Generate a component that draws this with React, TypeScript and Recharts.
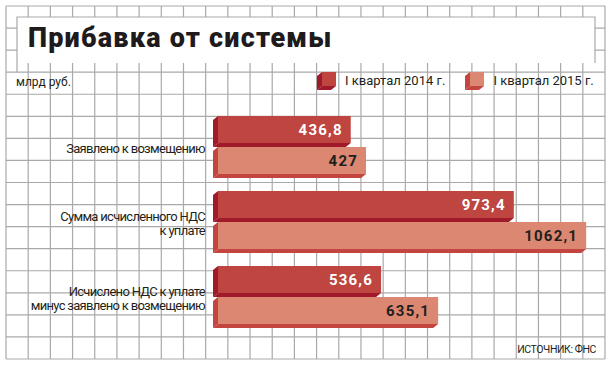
import { Bar, BarChart, LabelList, Legend, XAxis, YAxis } from "recharts";

const categories = [
  "Заявлено к возмещению",
  "Сумма исчисленного НДС\nк уплате",
  "Исчислено НДС к уплате\nминус заявлено к возмещению",
];
const quarter2014 = [436.8, 973.4, 536.6];
const quarter2015 = [427, 1062.1, 635.1];
const seriesNames = ["I квартал 2014 г.", "I квартал 2015 г."];

const title = "Прибавка от системы";
const unit = "млрд руб.";
const source = "ИСТОЧНИК: ФНС";

const data = categories.map((name, i) => ({
  name,
  q2014: quarter2014[i],
  q2015: quarter2015[i],
}));

const W = 613;
const H = 369;
const FONT = "Roboto, 'Noto Sans', sans-serif";
const GRID = "#a9a9a9";
const DX = 5;
const DY = 4;

const series = [
  { key: "q2014", name: seriesNames[0], front: "#be4540", side: "#a01a2c", text: "#ffffff", axis: "a" },
  { key: "q2015", name: seriesNames[1], front: "#db8771", side: "#c4453f", text: "#231f20", axis: "b" },
];

const fmt = (v: number) => String(v).replace(".", ",");

// front face at (x, y, w, h), depth drawn to the lower left
function Box3D({ x, y, w, h, front, side }: any) {
  return (
    <g>
      <polygon points={`${x},${y} ${x - DX},${y + DY} ${x - DX},${y + h + DY} ${x},${y + h}`} fill={side} />
      <polygon points={`${x},${y + h} ${x + w},${y + h} ${x + w - DX},${y + h + DY} ${x - DX},${y + h + DY}`} fill={side} />
      <rect x={x} y={y} width={w} height={h} fill={front} />
    </g>
  );
}

const barShape = (s: any) => (props: any) => {
  const { x, y, width, height } = props;
  return <Box3D x={x} y={y} w={width} h={height - DY} front={s.front} side={s.side} />;
};

const valueLabel = (s: any) => (props: any) => {
  const { x, y, width, height, value } = props;
  return (
    <text
      x={x + width - 8}
      y={y + (height - DY) / 2}
      dy="0.36em"
      textAnchor="end"
      fill={s.text}
      fontFamily={FONT}
      fontWeight={700}
      fontSize={15}
      letterSpacing={1.2}
    >
      {fmt(value)}
    </text>
  );
};

function CategoryTick({ x, y, payload }: any) {
  const lines = String(payload.value).split("\n");
  const start = -((lines.length - 1) * 14) / 2 + 2;
  return (
    <text x={x} y={y} textAnchor="end" fontFamily={FONT} fontSize={13} letterSpacing={-0.7} fill="#231f20">
      {lines.map((l, i) => (
        <tspan key={i} x={x} dy={i === 0 ? start + 4.5 : 14}>
          {l}
        </tspan>
      ))}
    </text>
  );
}

function LegendContent() {
  return (
    <div style={{ display: "flex", alignItems: "center", fontFamily: FONT, fontSize: 13, color: "#231f20" }}>
      {series.map((s, i) => (
        <div key={s.key} style={{ display: "flex", alignItems: "center", marginRight: i === 0 ? 20 : 0 }}>
          <svg width={20} height={19} style={{ display: "block" }}>
            <Box3D x={5} y={1} w={14} h={14} front={s.front} side={s.side} />
          </svg>
          <span style={{ marginLeft: 8, whiteSpace: "nowrap" }}>{s.name}</span>
        </div>
      ))}
    </div>
  );
}

function Background() {
  const x0 = 6, x1 = 605, y0 = 6, y1 = 359, cols = 27, rows = 16;
  const vs = Array.from({ length: cols + 1 }, (_, i) => x0 + ((x1 - x0) * i) / cols);
  const hs = Array.from({ length: rows + 1 }, (_, i) => y0 + ((y1 - y0) * i) / rows);
  return (
    <svg width={W} height={H} style={{ position: "absolute", left: 0, top: 0 }}>
      <rect width={W} height={H} fill="#fff" />
      {vs.map((x) => (
        <line key={"v" + x} x1={x} x2={x} y1={y0} y2={y1} stroke={GRID} strokeWidth={1.2} />
      ))}
      {hs.map((y) => (
        <line key={"h" + y} x1={x0} x2={x1} y1={y} y2={y} stroke={GRID} strokeWidth={1.2} />
      ))}
      <rect x={17} y={17} width={578} height={46} fill="#fff" />
      <polyline points="17,72 17,17 595,17 595,63" fill="none" stroke={GRID} strokeWidth={1.2} />
      <text x={28} y={47} fontFamily={FONT} fontWeight={900} fontSize={27} letterSpacing={1.2} fill="#1f1a1b">
        {title}
      </text>
      <text x={16} y={86} fontFamily={FONT} fontSize={12} fill="#231f20">
        {unit}
      </text>
      <text x={596} y={353} textAnchor="end" fontFamily={FONT} fontSize={10.5} letterSpacing={-0.4} fill="#231f20">
        {source}
      </text>
    </svg>
  );
}

export default function App() {
  return (
    <div style={{ position: "absolute", left: 0, top: 0, width: W, height: H, background: "#fff" }}>
      <Background />
      <div style={{ position: "absolute", left: 0, top: 0 }}>
        <BarChart
          width={W}
          height={H}
          data={data}
          layout="vertical"
          margin={{ top: 109, right: 13, bottom: 35, left: 0 }}
          barSize={31}
          barGap={0}
        >
          <XAxis xAxisId="a" type="number" domain={[0, 1257]} hide />
          <XAxis xAxisId="b" type="number" domain={[0, 1102]} hide />
          <YAxis
            type="category"
            dataKey="name"
            width={218}
            axisLine={false}
            tickLine={false}
            tickSize={0}
            tickMargin={13}
            tick={<CategoryTick />}
          />
          <Legend
            layout="vertical"
            align="center"
            verticalAlign="middle"
            content={<LegendContent />}
            wrapperStyle={{ left: 317, top: 71, width: "auto", height: "auto" }}
          />
          {series.map((s) => (
            <Bar
              key={s.key}
              dataKey={s.key}
              name={s.name}
              xAxisId={s.axis}
              fill={s.front}
              shape={barShape(s)}
              isAnimationActive={false}
            >
              <LabelList dataKey={s.key} content={valueLabel(s)} />
            </Bar>
          ))}
        </BarChart>
      </div>
    </div>
  );
}
